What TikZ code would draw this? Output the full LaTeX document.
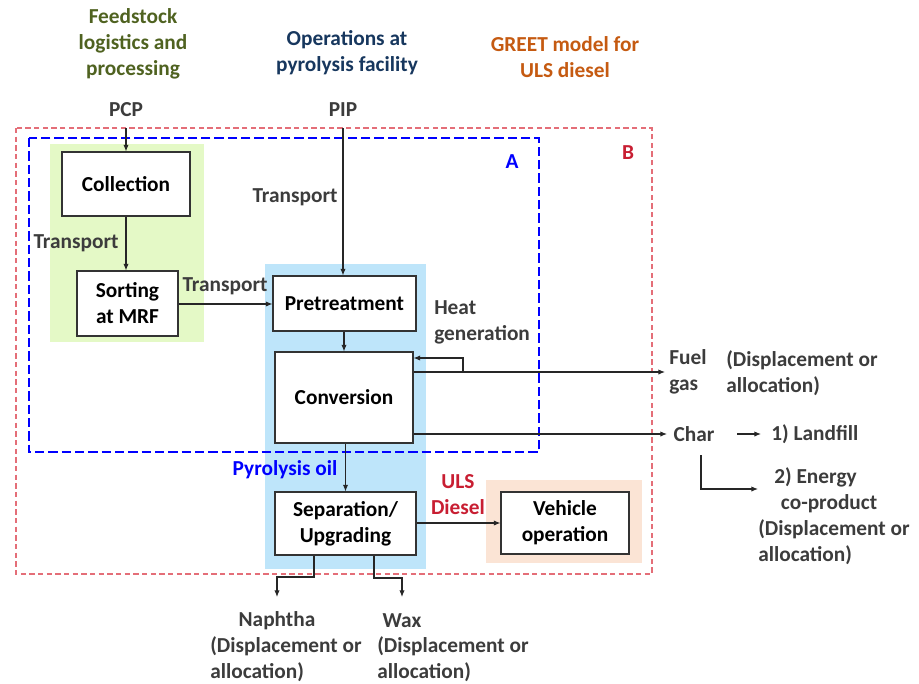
\documentclass[tikz,border=0pt]{standalone}
\usepackage{fontspec}
\setmainfont{Carlito}
\usetikzlibrary{arrows.meta}
\definecolor{cgreen}{RGB}{79,98,32}
\definecolor{cnavy}{RGB}{23,55,94}
\definecolor{corange}{RGB}{197,90,17}
\definecolor{ccrimson}{RGB}{200,30,50}
\definecolor{cblue}{RGB}{0,0,255}
\definecolor{cred}{RGB}{228,110,120}
\definecolor{bggreen}{RGB}{228,249,198}
\definecolor{bgblue}{RGB}{190,229,250}
\definecolor{bgorange}{RGB}{251,228,213}
\definecolor{cgray}{RGB}{60,60,60}
\tikzset{
  txt/.style={font=\fontsize{16}{19.5}\selectfont\bfseries, inner sep=0pt, align=center},
  lbl/.style={txt, text=cgray},
  box/.style={draw=black!80, fill=white, line width=0.8pt, font=\fontsize{16}{19.5}\selectfont\bfseries, align=center, inner sep=0pt},
  arr/.style={draw=black!85, line width=0.8pt, -{Latex[length=5pt,width=4pt]}},
  ln/.style={draw=black!85, line width=0.8pt},
}
\begin{document}
\begin{tikzpicture}[x=0.75pt,y=-0.75pt]
\useasboundingbox (0,0) rectangle (919,683);
% backgrounds
\fill[bggreen] (50,144) rectangle (204,342);
\fill[bgblue] (265,264) rectangle (426,569);
\fill[bgorange] (486,480) rectangle (642,563);
% dashed frames
\draw[cred, line width=0.8pt, dash pattern=on 4pt off 2.5pt] (16,128) rectangle (652,574);
\draw[cblue, line width=0.8pt, dash pattern=on 7pt off 3pt] (29,138) rectangle (539,452);
\node[txt, text=cblue] (A) at (512,162) {A};
\node[txt, text=ccrimson] (B) at (628,153) {B};
% titles
\node[txt, text=cgreen] (t1) at (133,44) {Feedstock\\logistics and\\processing};
\node[txt, text=cnavy] (t2) at (347,53) {Operations at\\pyrolysis facility};
\node[txt, text=corange] (t3) at (565,57) {GREET model for\\ULS diesel};
\node[lbl] (PCP) at (126,110) {PCP};
\node[lbl] (PIP) at (343,110) {PIP};
% boxes
\node[box, minimum width=96pt, minimum height=48pt] (coll) at (126,184) {Collection};
\node[box, minimum width=75.75pt, minimum height=48.75pt] (sort) at (127.5,303.5) {Sorting\\at MRF};
\node[box, minimum width=107.25pt, minimum height=41.25pt] (pre) at (344.5,303.5) {Pretreatment};
\node[box, minimum width=103.5pt, minimum height=68.25pt] (conv) at (344,397.5) {Conversion};
\node[box, minimum width=105.75pt, minimum height=47.25pt] (sep) at (345.5,523.5) {Separation/\\Upgrading};
\node[box, minimum width=96pt, minimum height=46.5pt] (veh) at (565,523) {Vehicle\\operation};
% labels
\node[lbl] (tr1) at (76,243) {Transport};
\node[lbl] (tr2) at (295,197) {Transport};
\node[lbl] (tr3) at (225,286) {Transport};
\node[lbl, anchor=west, align=left] (heat) at (434,322) {Heat\\generation};
\node[txt, text=cblue] (pyo) at (285,470) {Pyrolysis oil};
\node[txt, text=ccrimson] (uls) at (458,495) {ULS\\Diesel};
\node[lbl, anchor=west, align=left] (fuel) at (669,372) {Fuel\\gas};
\node[lbl, anchor=west, align=left] (fueld) at (726,373) {(Displacement or\\allocation)};
\node[lbl] (char) at (694,434) {Char};
\node[lbl, anchor=west] (land) at (771,434) {1) Landfill};
\node[lbl, anchor=west, align=left] (en) at (758,516) {\hspace*{12pt}2) Energy\\\hspace*{17pt}co-product\\(Displacement or\\allocation)};
\node[lbl] (nap) at (277,621) {Naphtha};
\node[lbl, anchor=north west, align=left] (napd) at (210,636) {(Displacement or\\allocation)};
\node[lbl] (wax) at (402,621) {Wax};
\node[lbl, anchor=north west, align=left] (waxd) at (377,636) {(Displacement or\\allocation)};
% coordinates
\coordinate (pcpst) at (126,128);
\coordinate (pipst) at (343,128);
\coordinate (fgend) at (665,372);
\coordinate (hl) at (463,358);
\coordinate (chend) at (667,434);
\coordinate (lfst) at (737,434);
\coordinate (lfend) at (761,434);
\coordinate (cb1) at (701,455);
\coordinate (cb2) at (701,489);
\coordinate (cbend) at (758,489);
\coordinate (nk1) at (314,577);
\coordinate (nk2) at (277,577);
\coordinate (nend) at (277,597);
\coordinate (wk1) at (374,578);
\coordinate (wk2) at (402,578);
\coordinate (wend) at (402,597);
% connectors
\draw[arr] (pcpst) -- (coll.north);
\draw[arr] (coll.south) -- (sort.north -| coll.south);
\draw[arr] (pipst) -- (pre.north -| pipst);
\draw[arr] (sort.east |- 0,304) -- (pre.west |- 0,304);
\draw[arr] (pre.south -| conv.north) -- (conv.north);
\draw[arr] (conv.east |- fgend) -- (fgend);
\draw[arr] (hl |- fgend) -- (hl) -- (conv.east |- hl);
\draw[arr] (conv.east |- chend) -- (chend);
\draw[arr] (lfst) -- (lfend);
\draw[arr] (cb1) -- (cb2) -- (cbend);
\draw[arr] (conv.south -| sep.north) -- (sep.north);
\draw[arr] (sep.east |- veh.west) -- (veh.west);
\draw[arr] (sep.south -| nk1) -- (nk1) -- (nk2) -- (nend);
\draw[arr] (sep.south -| wk1) -- (wk1) -- (wk2) -- (wend);
\end{tikzpicture}
\end{document}
